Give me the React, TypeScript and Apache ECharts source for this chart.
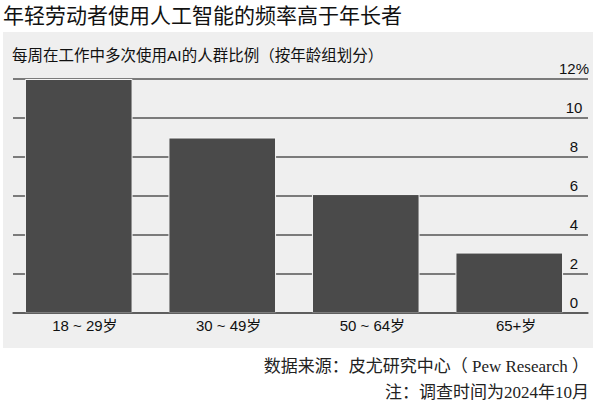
import React, { useEffect, useRef } from "react";
import * as echarts from "echarts";

const titleText = "年轻劳动者使用人工智能的频率高于年长者";
const subtitleText = "每周在工作中多次使用AI的人群比例（按年龄组划分）";
const sourceText = "数据来源：皮尤研究中心（ Pew Research ）";
const noteText = "注：调查时间为2024年10月";

const categories = ["18 ~ 29岁", "30 ~ 49岁", "50 ~ 64岁", "65+岁"];
const values = [12, 9, 6.1, 3.1];
const yMin = 0;
const yMax = 12;
const yInterval = 2;

const SANS = "'Liberation Sans', Arial, 'Noto Sans CJK SC', sans-serif";
const SERIF = "'Liberation Serif', 'Noto Sans CJK SC', serif";

export default function App() {
  const ref = useRef<HTMLDivElement>(null);

  useEffect(() => {
    document.body.style.margin = "0";
    if (!ref.current) return;
    const chart = echarts.init(ref.current, undefined, { renderer: "svg" });
    const option: any = {
      animation: false,
      backgroundColor: "#ffffff",
      graphic: [
        {
          type: "rect",
          z: -100,
          shape: { x: 3, y: 32, width: 590, height: 316 },
          style: { fill: "#efefef" },
        },
        {
          type: "text",
          x: 3,
          y: 14,
          style: {
            text: titleText,
            fontSize: 21,
            fontFamily: "'Noto Sans CJK SC', sans-serif",
            fontWeight: "normal",
            fill: "#111111",
            textAlign: "left",
            textVerticalAlign: "middle",
          },
        },
        {
          type: "text",
          x: 12,
          y: 55,
          style: {
            text: subtitleText,
            fontSize: 15.5,
            fontFamily: SANS,
            fill: "#111111",
            textAlign: "left",
            textVerticalAlign: "middle",
          },
        },
        {
          type: "text",
          x: 589,
          y: 366,
          style: {
            text: sourceText,
            fontSize: 17,
            fontFamily: SERIF,
            fill: "#222222",
            textAlign: "right",
            textVerticalAlign: "middle",
          },
        },
        {
          type: "text",
          x: 589,
          y: 392,
          style: {
            text: noteText,
            fontSize: 17,
            fontFamily: SERIF,
            fill: "#222222",
            textAlign: "right",
            textVerticalAlign: "middle",
          },
        },
      ],
      grid: [
        { left: 7, right: 15, top: 79, bottom: 90, containLabel: false },
        { left: 13, right: 8, top: 79, bottom: 90, containLabel: false },
      ],
      xAxis: [
        {
          type: "category",
          gridIndex: 0,
          data: categories,
          axisLine: { show: false },
          axisTick: { show: false },
          axisLabel: { show: false },
          splitLine: { show: false },
        },
        {
          type: "category",
          gridIndex: 1,
          data: categories,
          axisLine: { show: true, lineStyle: { color: "#555555", width: 1.5 } },
          axisTick: { show: false },
          axisLabel: {
            show: true,
            margin: 5,
            fontSize: 15,
            fontFamily: SANS,
            color: "#111111",
          },
          splitLine: { show: false },
          z: 3,
        },
      ],
      yAxis: [
        {
          type: "value",
          gridIndex: 0,
          min: yMin,
          max: yMax,
          interval: yInterval,
          axisLine: { show: false },
          axisTick: { show: false },
          axisLabel: { show: false },
          splitLine: { show: false },
        },
        {
          type: "value",
          gridIndex: 1,
          position: "right",
          min: yMin,
          max: yMax,
          interval: yInterval,
          axisLine: { show: false },
          axisTick: { show: false },
          axisLabel: {
            show: true,
            inside: true,
            margin: 14,
            align: "center",
            verticalAlign: "bottom",
            lineHeight: 22,
            fontSize: 15,
            fontFamily: SANS,
            color: "#111111",
            formatter: (v: number) => (v === yMax ? `${v}%` : String(v)),
          },
          splitLine: { show: true, lineStyle: { color: "#555555", width: 1.5 } },
        },
      ],
      series: [
        {
          type: "bar",
          xAxisIndex: 0,
          yAxisIndex: 0,
          data: values,
          barCategoryGap: "25%",
          itemStyle: { color: "#4a4a4a", borderColor: "#f6f6f6", borderWidth: 1 },
          z: 2,
        },
      ],
    };
    chart.setOption(option);
    return () => chart.dispose();
  }, []);

  return (
    <div
      ref={ref}
      style={{ position: "absolute", left: 0, top: 0, width: 596, height: 403 }}
    />
  );
}
